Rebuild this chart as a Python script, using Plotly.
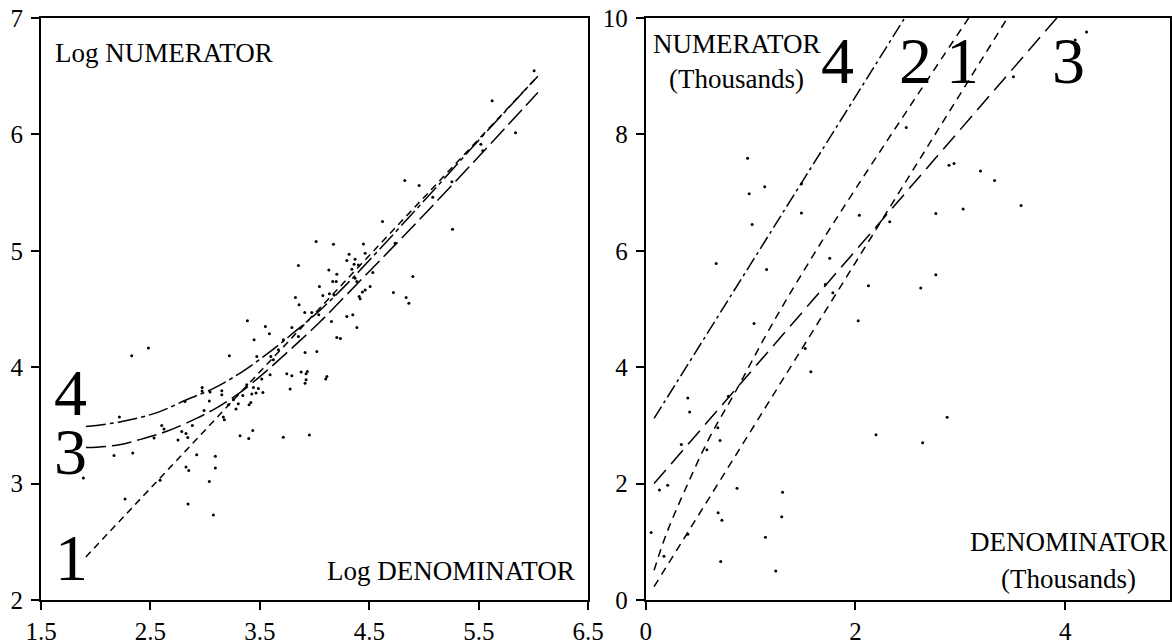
import plotly.graph_objects as go

# ---------------- data: left panel (log scale) ----------------
left_x = [2.329, 2.481, 2.216, 2.167, 2.338, 1.887, 2.603, 2.624, 2.533, 2.752,
          2.786, 2.825, 2.841, 2.883, 2.923, 2.825, 2.850, 2.588, 2.268, 2.844,
          3.075, 3.093, 3.093, 3.038, 2.816, 2.972, 2.972, 3.038, 2.990, 3.045,
          3.152, 3.152, 3.221, 3.166, 3.175, 3.212, 3.258, 3.282, 3.303, 3.344,
          3.380, 3.401, 3.417, 3.426, 3.465, 3.486, 3.527, 3.441, 3.319, 3.398,
          3.435, 3.517, 3.593, 3.447, 3.587, 3.472, 3.600, 3.623,
          4.620, 4.014, 4.172, 4.446, 4.315, 4.462, 4.294, 4.370, 4.361, 4.400,
          3.852, 4.130, 4.203, 4.340, 4.532, 4.370, 4.166, 4.197, 4.044, 4.898,
          4.386, 4.462, 4.437, 4.507, 4.720, 4.836, 4.861, 4.407, 4.416, 3.825,
          3.858, 4.075, 4.135, 4.178, 3.910, 3.974, 4.038, 4.294, 4.349, 4.154,
          4.386, 3.386, 3.550, 3.792, 3.852, 4.203, 4.236, 4.020, 3.913, 3.669,
          3.715, 4.112, 4.102, 3.922, 3.934, 3.877, 3.746, 3.792, 3.776, 3.913,
          3.922, 3.714, 3.952,
          6.006, 5.622, 5.836, 5.519, 5.537, 4.824, 4.955, 5.254, 5.080, 5.260,
          4.736]
left_y = [4.098, 4.164, 3.572, 3.242, 3.263, 3.048, 3.500, 3.469, 3.391, 3.374,
          3.448, 3.431, 3.397, 3.500, 3.248, 3.142, 3.113, 3.028, 2.868, 2.825,
          2.730, 3.234, 3.134, 3.019, 3.706, 3.826, 3.795, 3.709, 3.628, 3.786,
          3.797, 3.763, 4.098, 3.572, 3.549, 3.677, 3.720, 3.640, 3.686, 3.757,
          3.849, 3.677, 3.697, 3.769, 3.778, 3.817, 3.783, 3.826, 3.411, 3.388,
          3.457, 3.898, 3.935, 4.235, 4.287, 4.092, 4.092, 4.064,
          5.251, 5.079, 5.057, 5.059, 4.971, 4.979, 4.916, 4.928, 4.885, 4.879,
          4.873, 4.836, 4.799, 4.842, 4.813, 4.765, 4.736, 4.736, 4.693, 4.779,
          4.736, 4.664, 4.647, 4.693, 4.641, 4.598, 4.550, 4.607, 4.587, 4.598,
          4.536, 4.616, 4.630, 4.621, 4.470, 4.470, 4.450, 4.435, 4.450, 4.392,
          4.341, 4.398, 4.350, 4.341, 4.264, 4.255, 4.247, 4.135, 4.126, 4.149,
          4.235, 3.920, 3.898, 3.943, 3.963, 3.958, 3.943, 3.926, 3.812, 3.863,
          3.892, 3.399, 3.417,
          6.547, 6.289, 6.015, 5.915, 5.860, 5.603, 5.560, 5.594, 5.460, 5.185,
          5.065]

left_curve1_x = [1.91, 6.04]
left_curve1_y = [2.37, 6.50]
left_curve3_x = [1.91, 2.19, 2.41, 2.65, 2.92, 3.12, 3.33, 3.55, 3.80, 4.05, 4.30, 4.60, 5.00, 5.50, 6.04]
left_curve3_y = [3.31, 3.33, 3.38, 3.45, 3.56, 3.66, 3.79, 3.96, 4.17, 4.39, 4.63, 4.92, 5.31, 5.81, 6.36]
left_curve4_x = [1.91, 2.22, 2.56, 2.83, 3.08, 3.32, 3.56, 3.80, 4.05, 4.30, 4.60, 5.00, 5.50, 6.04]
left_curve4_y = [3.49, 3.53, 3.61, 3.72, 3.82, 3.95, 4.11, 4.29, 4.49, 4.72, 5.02, 5.43, 5.95, 6.50]

left_xticks = [1.5, 2.5, 3.5, 4.5, 5.5, 6.5]
left_xticklabels = ["1.5", "2.5", "3.5", "4.5", "5.5", "6.5"]
left_yticks = [2, 3, 4, 5, 6, 7]

# ---------------- data: right panel (thousands) ----------------
right_x = [0.972, 0.987, 1.135, 1.015, 1.485, 1.486, 0.672, 1.153, 1.755, 2.485,
           2.037, 2.327, 2.767, 2.893, 2.940, 3.193, 3.327, 3.027, 3.580, 3.507,
           4.096, 4.204, 2.124, 2.027, 2.623, 2.767, 2.875, 2.641, 2.196, 1.575,
           1.521, 1.033, 1.785, 1.713, 0.402, 0.419, 0.340, 0.583, 0.709, 0.210,
           0.131, 0.871, 1.305, 1.297, 1.142, 1.240, 0.715, 0.691, 0.727, 0.052,
           0.174, 0.402, 0.789, 0.688]
right_y = [7.59, 6.98, 7.10, 6.45, 6.65, 7.15, 5.78, 5.68, 5.87, 8.12,
           6.61, 6.50, 6.64, 7.47, 7.50, 7.37, 7.21, 6.72, 6.78, 8.99,
           9.62, 9.76, 5.40, 4.80, 5.36, 5.59, 3.14, 2.70, 2.84, 3.92,
           4.32, 4.75, 5.28, 5.42, 3.47, 3.23, 2.67, 2.58, 2.74, 1.97,
           1.89, 1.92, 1.85, 1.43, 1.08, 0.50, 0.66, 1.50, 1.37, 1.16,
           0.75, 1.13, 3.50, 2.96]

right_curve1_x = [0.08, 3.45]
right_curve1_y = [0.23, 10.0]
right_curve2_x = [0.08, 0.20, 0.375, 0.60, 0.853, 1.20, 1.60, 2.00, 2.50, 3.08]
right_curve2_y = [0.51, 1.15, 1.89, 2.76, 3.57, 4.72, 5.93, 7.06, 8.43, 10.0]
right_curve3_x = [0.08, 3.92]
right_curve3_y = [2.00, 10.0]
right_curve4_x = [0.08, 2.47]
right_curve4_y = [3.12, 10.0]

right_xticks = [0, 2, 4]
right_yticks = [0, 2, 4, 6, 8, 10]

FONT = "Liberation Serif"
BLACK = "#000000"

fig = go.Figure()

def dots(x, y, xa, ya):
    fig.add_trace(go.Scatter(x=x, y=y, mode="markers", xaxis=xa, yaxis=ya,
                             marker=dict(size=3, color=BLACK), showlegend=False,
                             hoverinfo="skip"))

def curve(x, y, xa, ya, dash, shape="linear"):
    fig.add_trace(go.Scatter(x=x, y=y, mode="lines", xaxis=xa, yaxis=ya,
                             line=dict(color=BLACK, width=1.5, dash=dash, shape=shape),
                             showlegend=False, hoverinfo="skip"))

# left panel
dots(left_x, left_y, "x", "y")
curve(left_curve1_x, left_curve1_y, "x", "y", "7px,5px")
curve(left_curve3_x, left_curve3_y, "x", "y", "20px,6px", "spline")
curve(left_curve4_x, left_curve4_y, "x", "y", "20px,4px,4px,4px", "spline")

# right panel
dots(right_x, right_y, "x2", "y2")
curve(right_curve1_x, right_curve1_y, "x2", "y2", "8px,6px")
curve(right_curve2_x, right_curve2_y, "x2", "y2", "8px,6px", "spline")
curve(right_curve3_x, right_curve3_y, "x2", "y2", "18px,8px")
curve(right_curve4_x, right_curve4_y, "x2", "y2", "14px,4px,3px,4px")

axis_common = dict(showline=True, linecolor=BLACK, linewidth=2, mirror=True,
                   ticks="outside", ticklen=8, tickwidth=2, tickcolor=BLACK,
                   showgrid=False, zeroline=False, automargin=False,
                   ticklabeloverflow="allow",
                   tickfont=dict(family=FONT, size=25, color=BLACK))

ann = []
def text(s, x, y, xr, yr, size, xanchor="center"):
    ann.append(dict(text=s, x=x, y=y, xref=xr, yref=yr, showarrow=False,
                    xanchor=xanchor, yanchor="middle",
                    font=dict(family=FONT, size=size, color=BLACK)))

# left panel labels
text("Log NUMERATOR", 1.606, 6.70, "x", "y", 27, "left")
text("Log DENOMINATOR", 6.40, 2.25, "x", "y", 27, "right")
text("4", 1.772, 3.785, "x", "y", 66)
text("3", 1.772, 3.275, "x", "y", 66)
text("1", 1.779, 2.365, "x", "y", 66)

# right panel labels
text("NUMERATOR", 0.867, 9.55, "x2", "y2", 27)
text("(Thousands)", 0.867, 8.95, "x2", "y2", 27)
text("DENOMINATOR", 4.035, 1.00, "x2", "y2", 27)
text("(Thousands)", 4.035, 0.36, "x2", "y2", 27)
text("4", 1.826, 9.27, "x2", "y2", 66)
text("2", 2.572, 9.27, "x2", "y2", 66)
text("1", 3.018, 9.27, "x2", "y2", 66)
text("3", 4.029, 9.27, "x2", "y2", 66)

fig.update_layout(
    width=1172, height=644,
    margin=dict(l=41, r=2, t=17.5, b=44, autoexpand=False),
    paper_bgcolor="white", plot_bgcolor="white",
    font=dict(family=FONT, color=BLACK),
    xaxis=dict(domain=[0.0, 0.4847], range=[1.5, 6.5], tickvals=left_xticks,
               ticktext=left_xticklabels, anchor="y", **axis_common),
    yaxis=dict(domain=[0, 1], range=[2, 7], tickvals=left_yticks, anchor="x",
               ticklabelstandoff=3, **axis_common),
    xaxis2=dict(domain=[0.5356, 1.0], range=[0, 5], tickvals=right_xticks, anchor="y2", **axis_common),
    yaxis2=dict(domain=[0, 1], range=[0, 10], tickvals=right_yticks, anchor="x2",
                ticklabelstandoff=3, **axis_common),
    annotations=ann,
    showlegend=False,
)

fig.write_html("out.html",
               config={"displayModeBar": False, "staticPlot": True},
               post_script="document.body.style.margin='0';document.body.style.overflow='hidden';")
